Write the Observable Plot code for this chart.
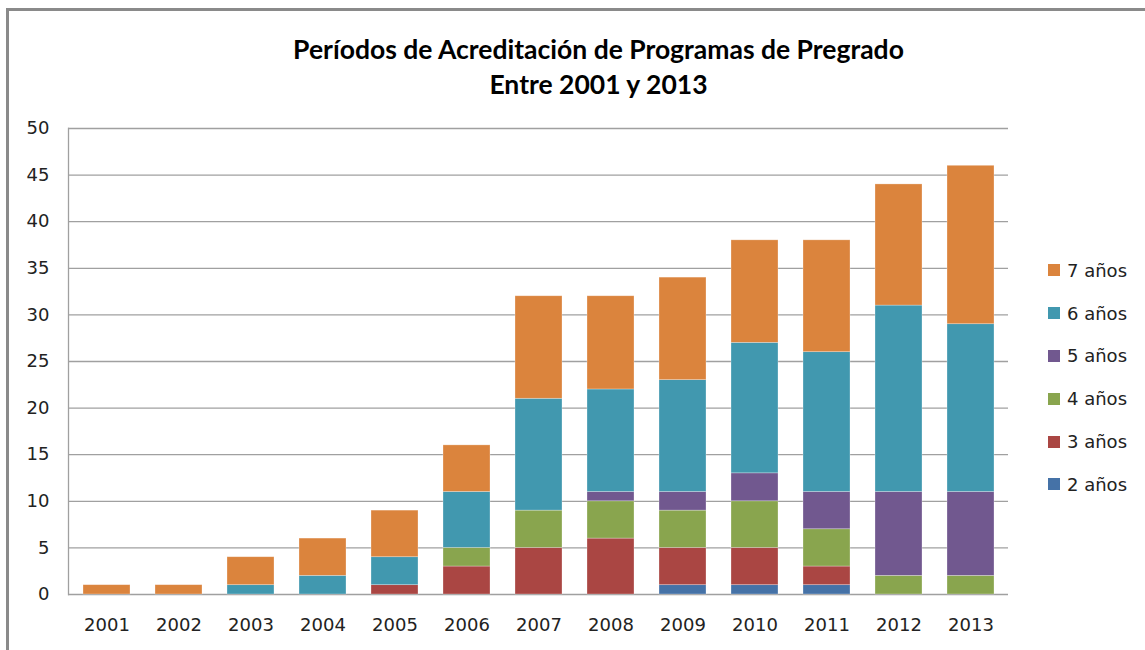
<!DOCTYPE html>
<html>
<head>
<meta charset="utf-8">
<script src="https://cdn.jsdelivr.net/npm/d3@7"></script>
<script src="https://cdn.jsdelivr.net/npm/@observablehq/plot@0.6"></script>
<style>
  body { margin: 0; background: #fff; }
  #wrap { position: relative; width: 1145px; height: 650px; overflow: hidden; font-family: "DejaVu Sans", sans-serif; }
  #frame { position: absolute; left: 6px; top: 8px; width: 1200px; height: 700px; border-top: 3px solid #8a8a8a; border-left: 3px solid #8a8a8a; box-sizing: border-box; }
  #title { position: absolute; left: 0; top: 32px; width: 1197px; text-align: center; font-family: Lato, sans-serif; font-weight: bold; font-size: 26.5px; line-height: 35px; color: #000; }
  #chart { position: absolute; left: 0; top: 110px; }
  #legend { position: absolute; left: 1048px; top: 249px; font-size: 18px; color: #222; }
  .li { display: flex; align-items: center; height: 42.8px; }
  .sw { width: 12px; height: 12px; margin-right: 7px; }
</style>
</head>
<body>
<div id="wrap">
  <div id="frame"></div>
  <div id="title">Períodos de Acreditación de Programas de Pregrado<br>Entre 2001 y 2013</div>
  <div id="chart"></div>
  <div id="legend"></div>
</div>
<script>
const years = ["2001","2002","2003","2004","2005","2006","2007","2008","2009","2010","2011","2012","2013"];
const series = ["2 años","3 años","4 años","5 años","6 años","7 años"];
const colors = ["#4572A7","#AA4643","#89A54E","#71588F","#4198AF","#DB843D"];
const v2 = [0,0,0,0,0,0,0,0,1,1,1,0,0];
const v3 = [0,0,0,0,1,3,5,6,4,4,2,0,0];
const v4 = [0,0,0,0,0,2,4,4,4,5,4,2,2];
const v5 = [0,0,0,0,0,0,0,1,2,3,4,9,9];
const v6 = [0,0,1,2,3,6,12,11,12,14,15,20,18];
const v7 = [1,1,3,4,5,5,11,10,11,11,12,13,17];
const yTicks = [0,5,10,15,20,25,30,35,40,45,50];

const values = [v2,v3,v4,v5,v6,v7];
const data = [];
series.forEach((s, i) => years.forEach((y, j) => data.push({year: y, serie: s, value: values[i][j]})));

const chart = Plot.plot({
  width: 1145,
  height: 534,
  marginLeft: 68,
  marginRight: 137,
  marginTop: 18,
  marginBottom: 50,
  style: {fontFamily: "DejaVu Sans, sans-serif", fontSize: "18px", color: "#222", background: "transparent"},
  x: {domain: years, paddingInner: 0.35, paddingOuter: 0.175, label: null},
  y: {domain: [0, 50], ticks: yTicks, label: null},
  color: {domain: series, range: colors},
  marks: [
    Plot.gridY(yTicks, {stroke: "#a0a0a0", strokeOpacity: 1, strokeWidth: 1.3}),
    Plot.frame({anchor: "left", stroke: "#a0a0a0", strokeWidth: 1.3}),
    Plot.barY(data, Plot.stackY({order: series}, {x: "year", y: "value", fill: "serie", stroke: "white", strokeOpacity: 0.4, strokeWidth: 0.7})),
    Plot.axisX({tickSize: 0, tickPadding: 24, fontSize: 18}),
    Plot.axisY({ticks: yTicks, tickSize: 0, tickPadding: 19, fontSize: 18})
  ]
});
document.getElementById("chart").appendChild(chart);

const leg = document.getElementById("legend");
for (let i = series.length - 1; i >= 0; i--) {
  const row = document.createElement("div");
  row.className = "li";
  row.innerHTML = `<div class="sw" style="background:${colors[i]}"></div><span>${series[i]}</span>`;
  leg.appendChild(row);
}
</script>
</body>
</html>
